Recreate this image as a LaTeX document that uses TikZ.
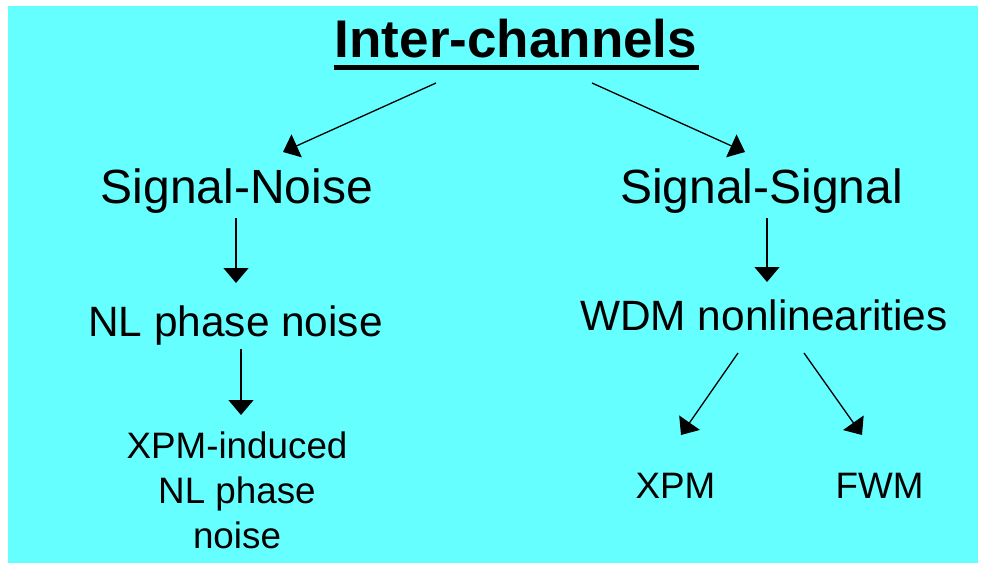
\documentclass[tikz,border=0pt]{standalone}
\usepackage{fontspec}
\setmainfont{Liberation Sans}
\usetikzlibrary{arrows.meta}
\definecolor{slidecyan}{RGB}{102,255,255}

\begin{document}
\begin{tikzpicture}
[
    x=1pt, y=-1pt,
    every node/.style={inner sep=0pt, anchor=base},
    big/.style={font=\fontsize{48}{58}\selectfont},
    mid/.style={font=\fontsize{42.4}{50}\selectfont},
    small/.style={font=\fontsize{36.8}{45}\selectfont},
    arr/.style={-{Triangle[length=15pt,width=25pt]}, line width=1.3pt},
]
\useasboundingbox (0,0) rectangle (981,565);
\fill[slidecyan] (8,6) rectangle (978,563);
\node[font=\fontsize{53}{60}\selectfont\bfseries] (title) at (516,57) {Inter-channels};
\draw[line width=5pt] ([xshift=-1pt,yshift=-10pt]title.base west) -- ([xshift=2pt,yshift=-10pt]title.base east);
\node[big] (noise) at (237,203) {Signal-Noise};
\node[big] (signal) at (761.5,203) {Signal-Signal};
\node[mid] (nlpn) at (235.5,336) {NL phase noise};
\node[mid] (wdm) at (764,330) {WDM nonlinearities};
\node[small, align=center, anchor=north] (xpmnl) at (237,432) {XPM-induced\\NL phase\\noise};
\node[small] (xpm) at (675.5,498) {XPM};
\node[small] (fwm) at (879.5,498) {FWM};
% arrows
\draw[arr] ([xshift=-80pt,yshift=-26pt]title.base) -- ([xshift=46pt,yshift=51pt]noise.base);
\draw[arr] ([xshift=76pt,yshift=-26pt]title.base) -- ([xshift=-16.5pt,yshift=51pt]signal.base);
\draw[arr] ([xshift=-1pt,yshift=-15pt]noise.base) -- ([xshift=0.5pt,yshift=53pt]nlpn.base);
\draw[arr] ([xshift=5.5pt,yshift=-13pt]nlpn.base) -- ([xshift=4pt,yshift=17pt]xpmnl.north);
\draw[arr] ([xshift=5.5pt,yshift=-15pt]signal.base) -- ([xshift=3pt,yshift=48pt]wdm.base);
\draw[arr] ([xshift=-26pt,yshift=-23pt]wdm.base) -- ([xshift=5.5pt,yshift=63pt]xpm.base);
\draw[arr] ([xshift=40pt,yshift=-23pt]wdm.base) -- ([xshift=-17.5pt,yshift=63pt]fwm.base);
\end{tikzpicture}
\end{document}
